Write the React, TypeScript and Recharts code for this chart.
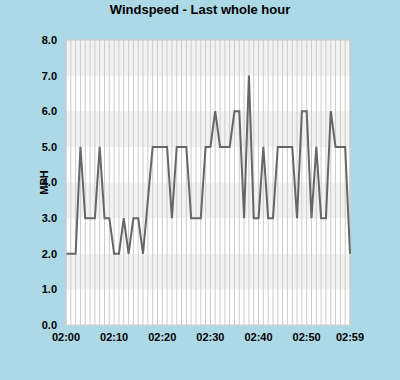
import { LineChart, Line, XAxis, YAxis, CartesianGrid, ReferenceArea, ReferenceLine } from "recharts";

// minute of the hour, 02:00 .. 02:59
const minutes = Array.from({ length: 60 }, (_, i) => i);

// wind speed (MPH) per minute
const speeds = [
  2, 2, 2, 5, 3, 3, 3, 5, 3, 3,
  2, 2, 3, 2, 3, 3, 2, 3.5, 5, 5,
  5, 5, 3, 5, 5, 5, 3, 3, 3, 5,
  5, 6, 5, 5, 5, 6, 6, 3, 7, 3,
  3, 5, 3, 3, 5, 5, 5, 5, 3, 6,
  6, 3, 5, 3, 3, 6, 5, 5, 5, 2,
];

const xTicks = [0, 10, 20, 30, 40, 50, 59];
const yTicks = [0, 1, 2, 3, 4, 5, 6, 7, 8];
// shaded horizontal bands
const bands = [
  [1, 2],
  [3, 4],
  [5, 6],
  [7, 8],
];

const data = minutes.map((m, i) => ({ minute: m, speed: speeds[i] }));

const font = "'Liberation Sans', Arial, sans-serif";
const tickStyle = { fill: "#000", fontSize: 11, fontWeight: 700, fontFamily: font };

export default function App() {
  return (
    <div
      style={{
        position: "absolute",
        left: 0,
        top: 0,
        width: 400,
        height: 380,
        background: "#ADD8E6",
        fontFamily: font,
      }}
    >
      <div
        style={{
          position: "absolute",
          top: 2,
          left: 0,
          width: 400,
          textAlign: "center",
          fontSize: 13,
          fontWeight: 700,
          color: "#000",
        }}
      >
        Windspeed - Last whole hour
      </div>
      <LineChart
        width={400}
        height={380}
        data={data}
        margin={{ top: 40, right: 50, bottom: 25, left: 26 }}
      >
        <ReferenceArea x1={0} x2={59} y1={0} y2={8} fill="#FFFFFF" fillOpacity={1} stroke="none" />
        {bands.map(([a, b]) => (
          <ReferenceArea key={a} x1={0} x2={59} y1={a} y2={b} fill="#F2F2F2" fillOpacity={1} stroke="none" />
        ))}
        {minutes.map((m) => (
          <ReferenceLine key={m} x={m} stroke="#CCCCCC" strokeWidth={1} />
        ))}
        <CartesianGrid vertical={false} stroke="#D4D4D4" strokeDasharray="" />
        <XAxis
          dataKey="minute"
          type="number"
          domain={[0, 59]}
          ticks={xTicks}
          interval={0}
          tickFormatter={(v) => `02:${String(v).padStart(2, "0")}`}
          tick={tickStyle}
          tickLine={false}
          tickSize={0}
          tickMargin={8}
          axisLine={{ stroke: "#CCCCCC" }}
          height={30}
        />
        <YAxis
          domain={[0, 8]}
          ticks={yTicks}
          interval={0}
          tickFormatter={(v) => Number(v).toFixed(1)}
          tick={tickStyle}
          tickLine={false}
          tickSize={0}
          tickMargin={9}
          axisLine={{ stroke: "#CCCCCC" }}
          width={40}
          label={{
            value: "MPH",
            angle: -90,
            position: "center",
            dx: -2,
            style: { fill: "#000", fontSize: 11, fontWeight: 700, fontFamily: font },
          }}
        />
        <ReferenceLine y={8} stroke="#CCCCCC" />
        <ReferenceLine x={59} stroke="#CCCCCC" />
        <Line
          type="linear"
          dataKey="speed"
          stroke="#666666"
          strokeWidth={2}
          dot={false}
          isAnimationActive={false}
        />
      </LineChart>
    </div>
  );
}
